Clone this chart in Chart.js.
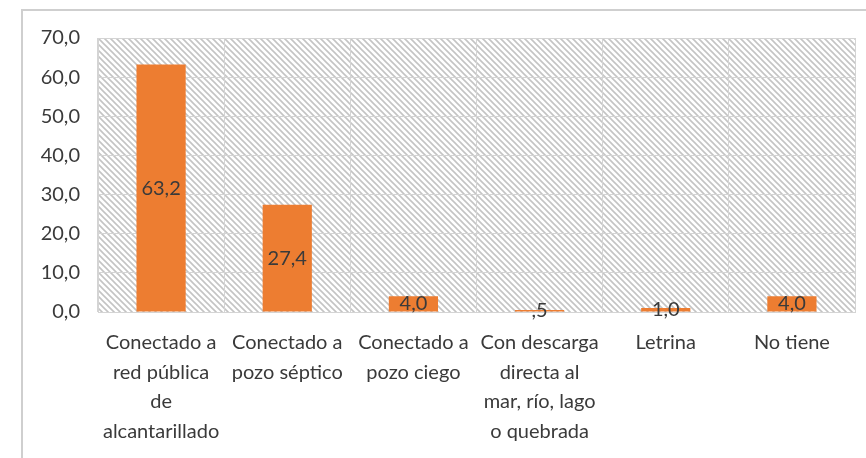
<!DOCTYPE html>
<html>
<head>
<meta charset="utf-8">
<script src="https://cdn.jsdelivr.net/npm/chart.js@4/dist/chart.umd.min.js"></script>
<style>
html,body{margin:0;padding:0;background:#fff;}
#wrap{position:relative;width:866px;height:458px;}
</style>
</head>
<body>
<div id="wrap"><canvas id="c" width="866" height="458"></canvas></div>
<script>
const categories = [
  ["Conectado a","red pública","de","alcantarillado"],
  ["Conectado a","pozo séptico"],
  ["Conectado a","pozo ciego"],
  ["Con descarga","directa al","mar, río, lago","o quebrada"],
  ["Letrina"],
  ["No tiene"]
];
const values = [63.2, 27.4, 4.0, 0.5, 1.0, 4.0];
const yTicks = [0, 10, 20, 30, 40, 50, 60, 70];

const FONT = "Lato, 'Open Sans', sans-serif";
const TXT = '#3a3a3a';

function fmt(v, dec) {
  let s = v.toFixed(dec).replace('.', ',');
  if (v > 0 && v < 1) s = s.replace(/^0/, '');
  return s;
}
function fmtLabel(v){ return v < 1 ? fmt(v,1).replace(/0$/,'') : fmt(v,1); }

function hatchPattern(ctx) {
  const s = 6;
  const pc = document.createElement('canvas');
  pc.width = s; pc.height = s;
  const p = pc.getContext('2d');
  p.fillStyle = '#ffffff';
  p.fillRect(0,0,s,s);
  p.strokeStyle = '#c4c4c4';
  p.lineWidth = 1.6;
  p.beginPath();
  p.moveTo(-1,-1); p.lineTo(s+1,s+1);
  p.moveTo(-2,s-2); p.lineTo(2,s+2);
  p.moveTo(s-2,-2); p.lineTo(s+2,2);
  p.stroke();
  return ctx.createPattern(pc, 'repeat');
}

const bgPlugin = {
  id: 'bg',
  beforeDraw(chart) {
    const ctx = chart.ctx, a = chart.chartArea;
    ctx.save();
    ctx.fillStyle = '#fff';
    ctx.fillRect(0,0,chart.width,chart.height);
    ctx.strokeStyle = '#cfcfcf';
    ctx.lineWidth = 2;
    ctx.beginPath();
    ctx.moveTo(22, chart.height);
    ctx.lineTo(22, 10);
    ctx.lineTo(chart.width, 10);
    ctx.stroke();
    ctx.fillStyle = hatchPattern(ctx);
    ctx.fillRect(a.left, a.top, a.right - a.left, a.bottom - a.top);
    ctx.restore();
  }
};

const labelPlugin = {
  id: 'vals',
  afterDatasetsDraw(chart) {
    const ctx = chart.ctx;
    const meta = chart.getDatasetMeta(0);
    ctx.save();
    ctx.font = "20px " + FONT;
    ctx.fillStyle = TXT;
    ctx.textAlign = 'center';
    ctx.textBaseline = 'middle';
    meta.data.forEach((el, i) => {
      const y = (el.y + el.base) / 2;
      ctx.fillText(fmtLabel(values[i]), el.x, y);
    });
    ctx.restore();
  }
};

new Chart(document.getElementById('c'), {
  type: 'bar',
  data: {
    labels: categories,
    datasets: [{
      data: values,
      backgroundColor: '#ED7D31',
      borderWidth: 0,
      categoryPercentage: 1.0,
      barPercentage: 0.39
    }]
  },
  options: {
    responsive: false,
    animation: false,
    devicePixelRatio: 1,
    layout: { padding: { left: 0, top: 38, right: 11, bottom: 0 } },
    plugins: { legend: { display: false }, tooltip: { enabled: false } },
    scales: {
      x: {
        grid: { color: '#d4d4d4', lineWidth: 1, drawTicks: false, offset: true },
        border: { color: '#d4d4d4' },
        ticks: { color: TXT, font: { family: FONT, size: 20, lineHeight: 1.475 }, padding: 16, maxRotation: 0, autoSkip: false },
        afterFit(s) { s.height = 146; }
      },
      y: {
        min: 0, max: 70,
        afterBuildTicks(s) { s.ticks = yTicks.map(v => ({ value: v })); },
        grid: { color: '#d4d4d4', lineWidth: 1, drawTicks: false },
        border: { color: '#d4d4d4' },
        ticks: { color: TXT, font: { family: FONT, size: 20 }, padding: 18, callback: v => fmt(v, 1) },
        afterFit(s) { s.width = 98; }
      }
    }
  },
  plugins: [bgPlugin, labelPlugin]
});
</script>
</body>
</html>
